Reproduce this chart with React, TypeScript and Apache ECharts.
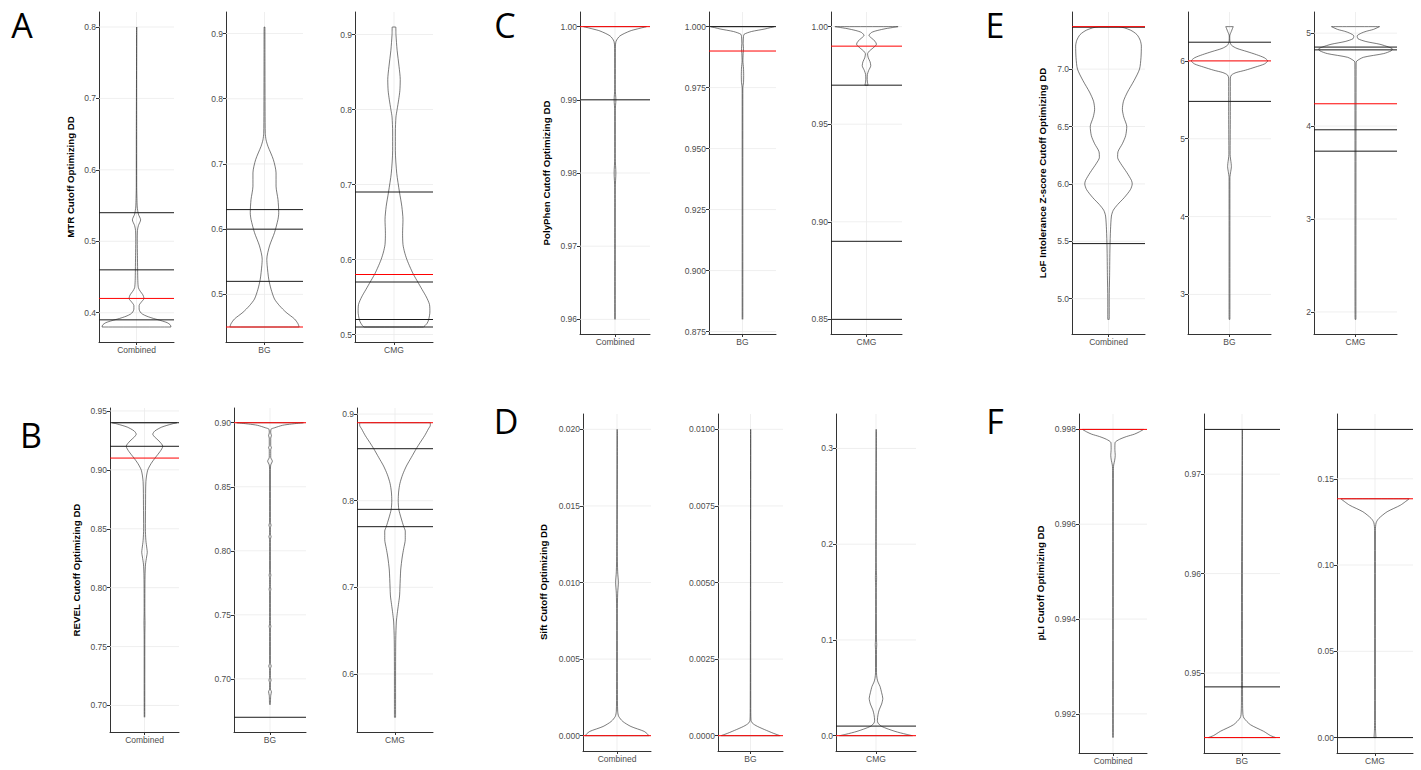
import React, { useEffect, useRef } from "react";
import * as echarts from "echarts";

// ---------- categories / titles ----------
const groups = ["Combined", "BG", "CMG"];
const panelLetters = ["A", "B", "C", "D", "E", "F"];
const panelTitles = [
  "MTR Cutoff Optimizing DD",
  "REVEL Cutoff Optimizing DD",
  "PolyPhen Cutoff Optimizing DD",
  "Sift Cutoff Optimizing DD",
  "LoF Intolerance Z-score Cutoff Optimizing DD",
  "pLI Cutoff Optimizing DD",
];

// ---------- A: MTR ----------  profile = [value, relative half width]
const mtrCombinedProfile = [[0.38,0.92],[0.383,0.9],[0.386,0.82],[0.389,0.65],[0.392,0.45],[0.395,0.28],[0.398,0.16],[0.401,0.1],[0.405,0.07],[0.41,0.07],[0.415,0.13],[0.42,0.2],[0.425,0.17],[0.43,0.1],[0.435,0.05],[0.445,0.035],[0.46,0.03],[0.48,0.025],[0.5,0.02],[0.515,0.025],[0.522,0.05],[0.53,0.11],[0.538,0.05],[0.548,0.02],[0.56,0.012],[0.575,0.006],[0.65,0.005],[0.8,0.005]];
const mtrCombinedLines = [0.54, 0.46, 0.39];
const mtrCombinedRed = [0.42];
const mtrCombinedTicks = ["0.4", "0.5", "0.6", "0.7", "0.8"];

const mtrBGProfile = [[0.45,0.9],[0.455,0.87],[0.4623,0.78],[0.4725,0.56],[0.4827,0.39],[0.4929,0.26],[0.508,0.17],[0.5234,0.11],[0.5438,0.07],[0.554,0.06],[0.5743,0.13],[0.5947,0.26],[0.615,0.35],[0.6252,0.37],[0.6455,0.35],[0.6659,0.3],[0.6863,0.3],[0.7066,0.23],[0.727,0.09],[0.737,0.04],[0.747,0.02],[0.78,0.015],[0.85,0.012],[0.91,0.01]];
const mtrBGLines = [0.63, 0.6, 0.52];
const mtrBGRed = [0.45];
const mtrBGTicks = ["0.5", "0.6", "0.7", "0.8", "0.9"];

const mtrCMGProfile = [[0.51,0.76],[0.515,0.85],[0.52,0.89],[0.53,0.92],[0.54,0.91],[0.55,0.83],[0.56,0.72],[0.57,0.61],[0.58,0.5],[0.59,0.41],[0.6,0.33],[0.61,0.27],[0.62,0.23],[0.635,0.22],[0.653,0.23],[0.671,0.2],[0.69,0.14],[0.715,0.07],[0.745,0.035],[0.77,0.035],[0.79,0.05],[0.8,0.08],[0.813,0.12],[0.825,0.15],[0.84,0.16],[0.857,0.13],[0.879,0.08],[0.9,0.05],[0.91,0.045]];
const mtrCMGLines = [0.69, 0.57, 0.52, 0.51];
const mtrCMGRed = [0.58];
const mtrCMGTicks = ["0.5", "0.6", "0.7", "0.8", "0.9"];

// ---------- B: REVEL ----------
const revelCombinedProfile = [[0.69,0.008],[0.76,0.01],[0.77,0.015],[0.78,0.01],[0.81,0.015],[0.82,0.03],[0.826,0.06],[0.83,0.08],[0.833,0.07],[0.84,0.04],[0.85,0.025],[0.87,0.03],[0.89,0.04],[0.8995,0.09],[0.9053,0.19],[0.911,0.33],[0.9155,0.45],[0.92,0.53],[0.9245,0.42],[0.928,0.29],[0.9303,0.24],[0.933,0.3],[0.9363,0.5],[0.939,0.8],[0.94,0.94]];
const revelCombinedLines = [0.94, 0.92];
const revelCombinedRed = [0.91];
const revelCombinedTicks = ["0.70", "0.75", "0.80", "0.85", "0.90", "0.95"];

const revelBGProfile = [[0.68,0.01],[0.687,0.02],[0.69,0.04],[0.692,0.01],[0.697,0.01],[0.699,0.03],[0.701,0.01],[0.708,0.01],[0.71,0.035],[0.712,0.01],[0.739,0.01],[0.741,0.025],[0.743,0.01],[0.768,0.01],[0.77,0.025],[0.772,0.01],[0.779,0.01],[0.781,0.025],[0.783,0.01],[0.809,0.01],[0.811,0.03],[0.813,0.01],[0.818,0.01],[0.82,0.03],[0.822,0.01],[0.86,0.01],[0.867,0.02],[0.87,0.065],[0.873,0.02],[0.879,0.02],[0.8805,0.04],[0.882,0.02],[0.888,0.02],[0.89,0.04],[0.892,0.02],[0.895,0.03],[0.896,0.12],[0.898,0.35],[0.899,0.6],[0.9,0.93]];
const revelBGLines = [0.67];
const revelBGRed = [0.9];
const revelBGTicks = ["0.70", "0.75", "0.80", "0.85", "0.90"];

const revelCMGProfile = [[0.55,0.015],[0.6,0.015],[0.64,0.02],[0.66,0.035],[0.67,0.06],[0.68,0.09],[0.69,0.12],[0.7,0.13],[0.72,0.15],[0.735,0.19],[0.745,0.23],[0.755,0.27],[0.765,0.27],[0.77,0.23],[0.78,0.16],[0.79,0.1],[0.8,0.085],[0.81,0.095],[0.82,0.13],[0.83,0.2],[0.84,0.3],[0.85,0.43],[0.86,0.56],[0.867,0.66],[0.875,0.78],[0.883,0.88],[0.887,0.93],[0.89,0.93]];
const revelCMGLines = [0.86, 0.79, 0.77];
const revelCMGRed = [0.89];
const revelCMGTicks = ["0.6", "0.7", "0.8", "0.9"];

// ---------- C: PolyPhen ----------
const polyCombinedProfile = [[0.96,0.006],[0.978,0.008],[0.98,0.025],[0.982,0.008],[0.9885,0.008],[0.99,0.025],[0.9915,0.008],[0.997,0.01],[0.998,0.03],[0.99873,0.14],[0.99941,0.43],[0.9997,0.65],[1.0,0.9]];
const polyCombinedLines = [0.99];
const polyCombinedRed = [1.0];
const polyCombinedTicks = ["0.96", "0.97", "0.98", "0.99", "1.00"];

const polyBGProfile = [[0.88,0.01],[0.975,0.01],[0.977,0.03],[0.98,0.035],[0.983,0.03],[0.986,0.012],[0.989,0.02],[0.991,0.03],[0.993,0.02],[0.996,0.03],[0.9969,0.05],[0.998,0.27],[0.99905,0.67],[1.0,0.95]];
const polyBGLines = [1.0];
const polyBGRed = [0.99];
const polyBGTicks = ["0.875", "0.900", "0.925", "0.950", "0.975", "1.000"];

const polyCMGProfile = [[0.97,0.045],[0.9712,0.03],[0.973,0.02],[0.9755,0.025],[0.9775,0.06],[0.98,0.12],[0.982,0.1],[0.984,0.05],[0.986,0.03],[0.9875,0.08],[0.989,0.18],[0.991,0.28],[0.9925,0.24],[0.994,0.15],[0.9955,0.07],[0.997,0.14],[0.998,0.3],[0.999,0.55],[0.9995,0.72],[1.0,0.89]];
const polyCMGLines = [0.97, 0.89, 0.85];
const polyCMGRed = [0.99];
const polyCMGTicks = ["0.85", "0.90", "0.95", "1.00"];

// ---------- D: Sift ----------
const siftCombinedProfile = [[0,0.94],[0.0001,0.9],[0.00028,0.8],[0.0006,0.41],[0.00093,0.17],[0.00126,0.05],[0.0016,0.02],[0.003,0.012],[0.008,0.01],[0.0093,0.02],[0.01,0.04],[0.0107,0.02],[0.012,0.008],[0.02,0.005]];
const siftCombinedLines: number[] = [];
const siftCombinedRed = [0];
const siftCombinedTicks = ["0.000", "0.005", "0.010", "0.015", "0.020"];

const siftBGProfile = [[0,0.91],[0.00008,0.7],[0.0002,0.43],[0.0003,0.22],[0.00036,0.12],[0.00042,0.05],[0.0005,0.015],[0.001,0.008],[0.01,0.005]];
const siftBGLines: number[] = [];
const siftBGRed = [0];
const siftBGTicks = ["0.0000", "0.0025", "0.0050", "0.0075", "0.0100"];

const siftCMGProfile = [[0,0.91],[0.0015,0.75],[0.0045,0.475],[0.0097,0.14],[0.0132,0.05],[0.016,0.035],[0.022,0.05],[0.027,0.08],[0.033,0.14],[0.039,0.17],[0.045,0.14],[0.0515,0.1],[0.056,0.05],[0.06,0.025],[0.066,0.012],[0.09,0.012],[0.095,0.018],[0.1,0.012],[0.155,0.008],[0.165,0.015],[0.175,0.008],[0.2,0.005],[0.32,0.005]];
const siftCMGLines = [0.01];
const siftCMGRed = [0];
const siftCMGTicks = ["0.0", "0.1", "0.2", "0.3"];

// ---------- E: LoF Z-score ----------
const lofCombinedProfile = [[4.82,0.02],[5.0,0.02],[5.2,0.03],[5.45,0.04],[5.6,0.055],[5.72,0.08],[5.77,0.13],[5.82,0.25],[5.88,0.43],[5.95,0.6],[6.0,0.65],[6.03,0.63],[6.1,0.5],[6.18,0.33],[6.23,0.25],[6.28,0.26],[6.35,0.38],[6.42,0.47],[6.5,0.5],[6.58,0.42],[6.65,0.38],[6.72,0.41],[6.8,0.52],[6.9,0.7],[7.0,0.85],[7.1,0.89],[7.2,0.9],[7.25,0.87],[7.3,0.78],[7.34,0.6],[7.37,0.27]];
const lofCombinedLines = [7.365, 5.48];
const lofCombinedRed = [7.37];
const lofCombinedTicks = ["5.0", "5.5", "6.0", "6.5", "7.0"];

const lofBGProfile = [[2.68,0.01],[4.5,0.01],[4.58,0.03],[4.64,0.045],[4.68,0.04],[4.8,0.015],[5.3,0.02],[5.78,0.02],[5.82,0.05],[5.85,0.16],[5.88,0.38],[5.92,0.62],[5.96,0.84],[6.0,0.92],[6.04,0.84],[6.08,0.65],[6.12,0.42],[6.16,0.18],[6.2,0.05],[6.25,0.01],[6.32,0.006],[6.38,0.045],[6.44,0.09]];
const lofBGLines = [6.24, 5.48];
const lofBGRed = [6.0];
const lofBGTicks = ["3", "4", "5", "6"];

const lofCMGProfile = [[1.92,0.01],[4.68,0.015],[4.7,0.03],[4.74,0.19],[4.78,0.68],[4.81,0.86],[4.83,0.89],[4.85,0.8],[4.88,0.59],[4.91,0.25],[4.94,0.06],[4.97,0.04],[5.0,0.14],[5.02,0.26],[5.04,0.43],[5.07,0.58]];
const lofCMGLines = [4.85, 4.82, 3.96, 3.73];
const lofCMGRed = [4.24];
const lofCMGTicks = ["2", "3", "4", "5"];

// ---------- F: pLI ----------
const pliCombinedProfile = [[0.9915,0.008],[0.9971,0.01],[0.99725,0.02],[0.99735,0.05],[0.99745,0.065],[0.99758,0.055],[0.99772,0.06],[0.99779,0.19],[0.99785,0.4],[0.9979,0.63],[0.99795,0.78],[0.998,0.9]];
const pliCombinedLines: number[] = [];
const pliCombinedRed = [0.998];
const pliCombinedTicks = ["0.992", "0.994", "0.996", "0.998"];

const pliBGProfile = [[0.9435,0.89],[0.9437,0.75],[0.94413,0.57],[0.9448,0.22],[0.94547,0.05],[0.9458,0.025],[0.947,0.015],[0.96,0.012],[0.9745,0.008]];
const pliBGLines = [0.9745, 0.9486];
const pliBGRed = [0.9435];
const pliBGTicks = ["0.95", "0.96", "0.97"];

const pliCMGProfile = [[0,0.025],[0.004,0.015],[0.01,0.01],[0.12,0.01],[0.1245,0.03],[0.127,0.1],[0.1309,0.32],[0.1347,0.67],[0.1384,0.9]];
const pliCMGLines = [0.1786, 0];
const pliCMGRed = [0.1384];
const pliCMGTicks = ["0.00", "0.05", "0.10", "0.15"];

// ---------- assembly (panel order A..F, groups Combined/BG/CMG) ----------
const subplots = [
  { panel: 0, group: 0, profile: mtrCombinedProfile, black: mtrCombinedLines, red: mtrCombinedRed, ticks: mtrCombinedTicks },
  { panel: 0, group: 1, profile: mtrBGProfile, black: mtrBGLines, red: mtrBGRed, ticks: mtrBGTicks },
  { panel: 0, group: 2, profile: mtrCMGProfile, black: mtrCMGLines, red: mtrCMGRed, ticks: mtrCMGTicks },
  { panel: 1, group: 0, profile: revelCombinedProfile, black: revelCombinedLines, red: revelCombinedRed, ticks: revelCombinedTicks },
  { panel: 1, group: 1, profile: revelBGProfile, black: revelBGLines, red: revelBGRed, ticks: revelBGTicks },
  { panel: 1, group: 2, profile: revelCMGProfile, black: revelCMGLines, red: revelCMGRed, ticks: revelCMGTicks },
  { panel: 2, group: 0, profile: polyCombinedProfile, black: polyCombinedLines, red: polyCombinedRed, ticks: polyCombinedTicks },
  { panel: 2, group: 1, profile: polyBGProfile, black: polyBGLines, red: polyBGRed, ticks: polyBGTicks },
  { panel: 2, group: 2, profile: polyCMGProfile, black: polyCMGLines, red: polyCMGRed, ticks: polyCMGTicks },
  { panel: 3, group: 0, profile: siftCombinedProfile, black: siftCombinedLines, red: siftCombinedRed, ticks: siftCombinedTicks },
  { panel: 3, group: 1, profile: siftBGProfile, black: siftBGLines, red: siftBGRed, ticks: siftBGTicks },
  { panel: 3, group: 2, profile: siftCMGProfile, black: siftCMGLines, red: siftCMGRed, ticks: siftCMGTicks },
  { panel: 4, group: 0, profile: lofCombinedProfile, black: lofCombinedLines, red: lofCombinedRed, ticks: lofCombinedTicks },
  { panel: 4, group: 1, profile: lofBGProfile, black: lofBGLines, red: lofBGRed, ticks: lofBGTicks },
  { panel: 4, group: 2, profile: lofCMGProfile, black: lofCMGLines, red: lofCMGRed, ticks: lofCMGTicks },
  { panel: 5, group: 0, profile: pliCombinedProfile, black: pliCombinedLines, red: pliCombinedRed, ticks: pliCombinedTicks },
  { panel: 5, group: 1, profile: pliBGProfile, black: pliBGLines, red: pliBGRed, ticks: pliBGTicks },
  { panel: 5, group: 2, profile: pliCMGProfile, black: pliCMGLines, red: pliCMGRed, ticks: pliCMGTicks },
];

// layout: [left, top, width, height] per subplot (same order)
const gridRects = [
  [99, 12, 75, 330], [226, 12, 77, 330], [355, 12, 78, 330],
  [110, 408, 69, 324], [234, 408, 72, 324], [357, 408, 76, 324],
  [580, 12, 70, 322], [709, 12, 67, 322], [831, 12, 71, 322],
  [583, 414, 68, 337], [718, 414, 65, 337], [836, 414, 80, 337],
  [1072, 12, 73, 322], [1188, 12, 83, 322], [1314, 12, 83, 322],
  [1079, 414, 68, 339], [1204, 414, 76, 339], [1337, 414, 76, 339],
];
const titlePos = [[70, 177], [76, 570], [546, 173], [543, 582], [1042, 173], [1040, 583]];
const letterPos = [[22, 25], [31, 435], [505, 25], [506, 421], [995, 25], [995, 421]];

const FONT = "'Liberation Sans', Arial, sans-serif";
const AXIS_COLOR = "#333333";
const LABEL_COLOR = "#4d4d4d";
const GRID_COLOR = "#ebebeb";

function hline(i: number, v: number, color: string, z: number, width = 1) {
  return {
    type: "line",
    xAxisIndex: i,
    yAxisIndex: i,
    data: [[-1, v], [1, v]],
    showSymbol: false,
    symbol: "none",
    silent: true,
    clip: false,
    lineStyle: { color, width },
    z,
  };
}

function vline(i: number, lo: number, hi: number) {
  return {
    type: "line",
    xAxisIndex: i,
    yAxisIndex: i,
    data: [[0, lo], [0, hi]],
    showSymbol: false,
    symbol: "none",
    silent: true,
    lineStyle: { color: GRID_COLOR, width: 0.8 },
    z: 1,
  };
}

function buildOption() {
  const grid: any[] = [];
  const xAxis: any[] = [];
  const yAxis: any[] = [];
  const series: any[] = [];

  subplots.forEach((sp, i) => {
    const [l, t, w, h] = gridRects[i];
    grid.push({ left: l, top: t, width: w, height: h, containLabel: false });

    const vals = [...sp.profile.map((p) => p[0]), ...sp.black, ...sp.red];
    const lo = Math.min(...vals);
    const hi = Math.max(...vals);
    const pad = (hi - lo) * 0.05;
    const yMin = lo - pad;
    const yMax = hi + pad;
    const tickVals = sp.ticks.map(Number);

    xAxis.push({
      gridIndex: i,
      type: "value",
      min: -1,
      max: 1,
      axisLine: { show: true, onZero: false, lineStyle: { color: AXIS_COLOR, width: 1 } },
      axisTick: { show: true, customValues: [0], length: 3, lineStyle: { color: AXIS_COLOR } },
      axisLabel: {
        show: true,
        customValues: [0],
        formatter: () => groups[sp.group],
        fontSize: 8.5,
        color: LABEL_COLOR,
        margin: 3,
        fontFamily: FONT,
      },
      splitLine: { show: false },
    });
    yAxis.push({
      gridIndex: i,
      type: "value",
      min: yMin,
      max: yMax,
      axisLine: { show: true, onZero: false, lineStyle: { color: AXIS_COLOR, width: 1 } },
      axisTick: { show: true, customValues: tickVals, length: 3, lineStyle: { color: AXIS_COLOR } },
      axisLabel: {
        show: true,
        customValues: tickVals,
        formatter: (v: number) => {
          const k = tickVals.findIndex((tv) => Math.abs(tv - v) < 1e-9);
          return k >= 0 ? sp.ticks[k] : "";
        },
        fontSize: 8.5,
        color: LABEL_COLOR,
        margin: 3,
        fontFamily: FONT,
      },
      splitLine: { show: false },
    });

    // light grid lines (under everything)
    tickVals.forEach((v) => series.push(hline(i, v, GRID_COLOR, 1, 0.8)));
    series.push(vline(i, yMin, yMax));

    // violin outline
    const right = sp.profile.map(([y, wd]) => [wd, y]);
    const left = sp.profile.slice().reverse().map(([y, wd]) => [-wd, y]);
    const pts = [...right, ...left, right[0]];
    series.push({
      type: "line",
      xAxisIndex: i,
      yAxisIndex: i,
      data: pts,
      showSymbol: false,
      symbol: "none",
      smooth: 0.25,
      clip: false,
      silent: true,
      lineStyle: { color: "#333333", width: 0.65 },
      z: 3,
    });

    // cutoff lines
    sp.black.forEach((v) => series.push(hline(i, v, "#1a1a1a", 4, 1)));
    sp.red.forEach((v) => series.push(hline(i, v, "#ff0000", 5, 1)));
  });

  const graphic: any[] = [];
  panelLetters.forEach((letter, p) => {
    graphic.push({
      type: "text",
      x: letterPos[p][0],
      y: letterPos[p][1],
      style: {
        text: letter,
        fontSize: 34,
        fontFamily: "'Open Sans', sans-serif",
        fill: "#000",
        align: "center",
        verticalAlign: "middle",
      },
    });
    graphic.push({
      type: "text",
      x: titlePos[p][0],
      y: titlePos[p][1],
      rotation: Math.PI / 2,
      style: {
        text: panelTitles[p],
        fontSize: 9.7,
        fontWeight: "bold",
        fontFamily: FONT,
        fill: "#000",
        align: "center",
        verticalAlign: "middle",
      },
    });
  });

  return {
    animation: false,
    backgroundColor: "#ffffff",
    textStyle: { fontFamily: FONT },
    grid,
    xAxis,
    yAxis,
    series,
    graphic,
  };
}

export default function App() {
  const ref = useRef<HTMLDivElement>(null);
  useEffect(() => {
    if (!ref.current) return;
    const chart = echarts.init(ref.current, undefined, { renderer: "svg" });
    chart.setOption(buildOption() as any);
    return () => chart.dispose();
  }, []);
  return (
    <div
      ref={ref}
      style={{ position: "fixed", left: 0, top: 0, width: 1421, height: 770, background: "#fff" }}
    />
  );
}
